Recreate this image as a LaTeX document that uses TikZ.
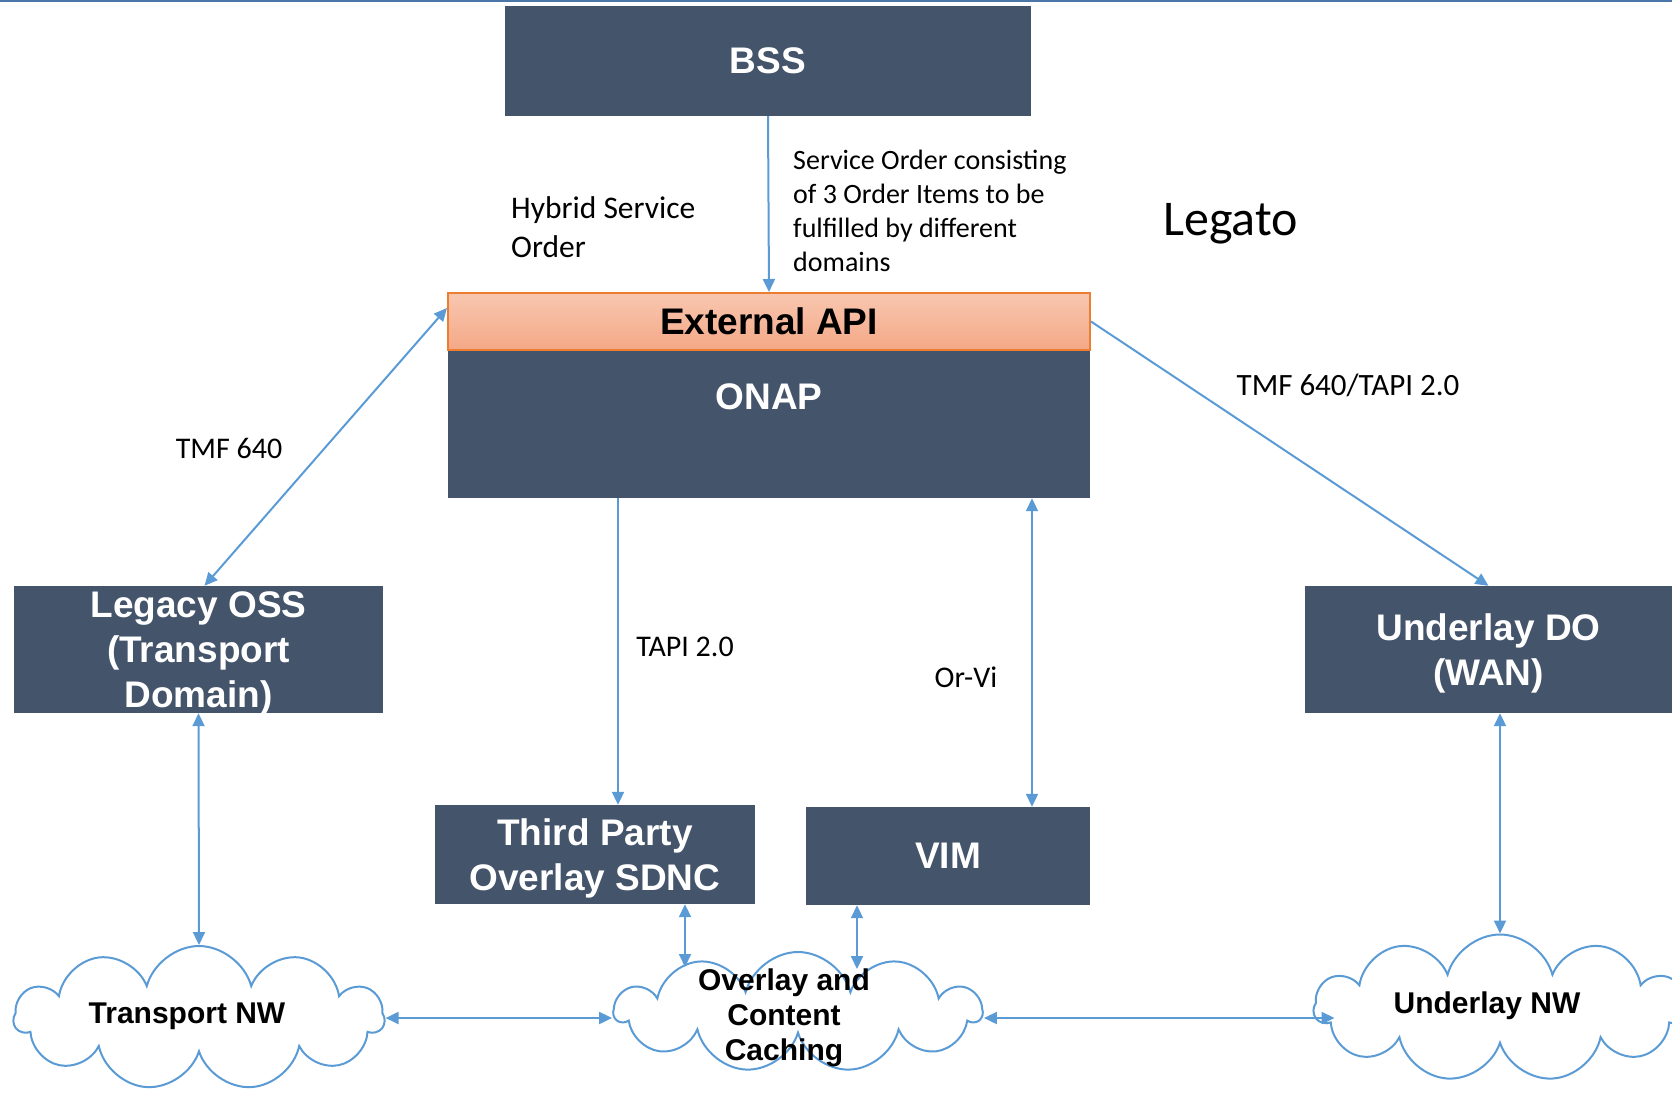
\documentclass[tikz,border=0pt]{standalone}
\usepackage{fontspec}
\setmainfont{Liberation Sans}
\newfontfamily\calibri{Carlito}
\usetikzlibrary{shapes.symbols, arrows.meta}

\definecolor{boxblue}{HTML}{44546A}
\definecolor{linkblue}{HTML}{5B9BD5}
\definecolor{apiline}{HTML}{ED7D31}
\definecolor{apitop}{HTML}{F8C7B0}
\definecolor{apibot}{HTML}{F4A886}
\definecolor{topline}{HTML}{4A76A8}

\tikzset{
  box/.style={fill=boxblue, text=white, inner sep=0pt, align=center, text depth=0pt,
    font=\bfseries\fontsize{37}{45}\selectfont},
  netcloud/.style={cloud, cloud puffs=11, cloud ignores aspect, draw=linkblue,
    line width=2pt, fill=white, inner sep=0pt},
  cloudtxt/.style={inner sep=0pt, align=center, font=\bfseries\fontsize{30}{35}\selectfont},
  lbl/.style={inner sep=0pt, align=left, font=\calibri\fontsize{30}{38}\selectfont},
  link/.style={draw=linkblue, line width=2pt, -{Triangle[length=13pt,width=12pt]}},
  twoway/.style={link, {Triangle[length=13pt,width=12pt]}-{Triangle[length=13pt,width=12pt]}},
}

\begin{document}
\begin{tikzpicture}[x=1pt, y=-1pt]
\useasboundingbox (0,0) rectangle (1672,1093);
\draw[topline, line width=2.5pt] (0,1) -- (1672,1);

% boxes
\node[box, minimum width=526pt, minimum height=110pt] (bss) at (768,61) {BSS};
\node[box, minimum width=642pt, minimum height=148pt] (onap) at (769,424) {};
\node[text=white, font=\bfseries\fontsize{37}{45}\selectfont] (onaptxt) at (769,397) {ONAP};
\node[draw=apiline, line width=2pt, top color=apitop, bottom color=apibot,
    minimum width=642pt, minimum height=57pt, inner sep=0pt,
    font=\bfseries\fontsize{37}{45}\selectfont] (api) at (769,321.5) {External API};
\node[box, minimum width=369pt, minimum height=127pt] (legacy) at (198.5,649.5)
    {Legacy OSS\\(Transport\\Domain)};
\node[box, minimum width=367pt, minimum height=127pt] (udo) at (1488.5,649.5)
    {Underlay DO\\(WAN)};
\node[box, minimum width=320pt, minimum height=99pt] (sdnc) at (595,854.5)
    {Third Party\\Overlay SDNC};
\node[box, minimum width=284pt, minimum height=98pt] (vim) at (948,856) {VIM};

% networks
\node[netcloud, minimum width=370pt, minimum height=144pt] (tcloud) at (199,1018) {};
\node[netcloud, minimum width=366pt, minimum height=120pt] (ocloud) at (798,1012) {};
\node[netcloud, minimum width=372pt, minimum height=147pt] (ucloud) at (1500,1008) {};
\node[cloudtxt] (tname) at (187,1016) {Transport NW};
\node[cloudtxt] (oname) at (784,1018) {Overlay and\\Content\\Caching};
\node[cloudtxt] (uname) at (1487,1006) {Underlay NW};

% labels
\node[lbl, anchor=north west, font=\calibri\fontsize{28}{34}\selectfont] (sotxt) at (793,150)
    {Service Order consisting\\of 3 Order Items to be\\fulfilled by different\\domains};
\node[lbl, anchor=north west, font=\calibri\fontsize{31.5}{39}\selectfont] (hybrid) at (511,196)
    {Hybrid Service\\Order};
\node[lbl, anchor=west, font=\calibri\fontsize{50}{58}\selectfont] (legato) at (1163,224) {Legato};
\node[lbl] (tmf) at (229,448) {TMF 640};
\node[lbl, font=\calibri\fontsize{31}{38}\selectfont] (tmftapi) at (1348,385) {TMF 640/TAPI 2.0};
\node[lbl] (tapi) at (685,647) {TAPI 2.0};
\node[lbl] (orvi) at (966,677) {Or-Vi};

% connector ends
\coordinate (sdncin) at ([xshift=23pt]sdnc.north);
\coordinate (vimin) at ([xshift=84pt]vim.north);
\coordinate (sdncout) at ([xshift=90pt]sdnc.south);
\coordinate (vimout) at ([xshift=-91pt]vim.south);
\coordinate (udoout) at ([xshift=11.5pt]udo.south);
\coordinate (ovtopL) at ([xshift=-113pt, yshift=-16pt]ocloud.north);
\coordinate (ovtopR) at ([xshift=59pt, yshift=-18pt]ocloud.north);

% connectors
\draw[link] (bss.south) -- (api.north);
\draw[twoway] ([yshift=-16pt]api.north west) -- ([xshift=6pt]legacy.north);
\draw[link] (api.east) -- (udo.north);
\draw[link] (sdncin |- onap.south) -- (sdncin);
\draw[twoway] (vimin |- onap.south) -- (vimin);
\draw[twoway] (legacy.south) -- (tcloud.north);
\draw[twoway] (sdncout) -- (ovtopL);
\draw[twoway] (vimout) -- (ovtopR);
\draw[twoway] (udoout) -- (udoout |- ucloud.north);
\draw[twoway] (tcloud.east) -- (tcloud.east -| ocloud.west);
\draw[twoway] (tcloud.east -| ocloud.east) -- ([xshift=22pt]tcloud.east -| ucloud.west);
\end{tikzpicture}
\end{document}
